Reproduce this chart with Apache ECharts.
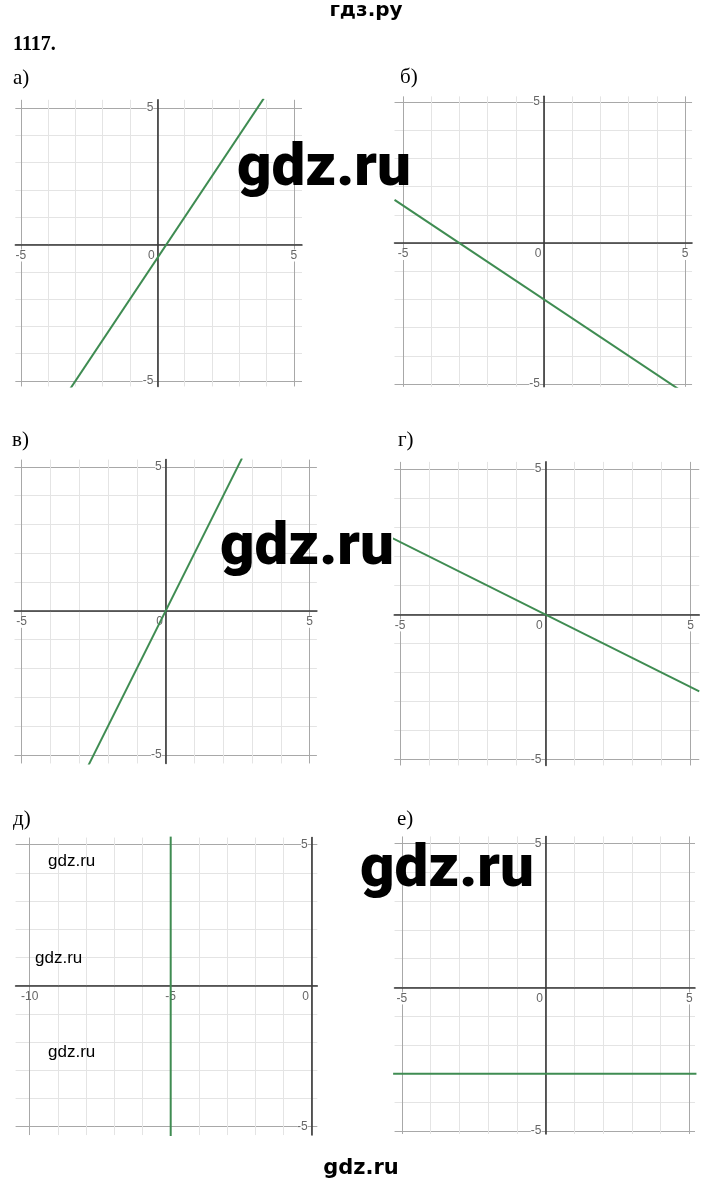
<!DOCTYPE html>
<html>
<head>
<meta charset="utf-8">
<script src="https://cdn.jsdelivr.net/npm/echarts@6/dist/echarts.min.js"></script>
<style>
html,body{margin:0;padding:0;background:#fff;}
#chart{width:720px;height:1183px;}
</style>
</head>
<body>
<div id="chart"></div>
<script>
// ---- data ----
const panelLabels = ['а)', 'б)', 'в)', 'г)', 'д)', 'е)'];
const xRanges = [[-5.2, 5.3], [-5.3, 5.25], [-5.25, 5.25], [-5.2, 5.3], [-10.5, 0.2], [-5.25, 5.2]];
const yRanges = [[-5.2, 5.3], [-5.1, 5.2], [-5.3, 5.25], [-5.2, 5.25], [-5.3, 5.25], [-5.1, 5.25]];
const gridTicks = [-5, -4, -3, -2, -1, 0, 1, 2, 3, 4, 5];
const gridTicksD = [-10, -9, -8, -7, -6, -5, -4, -3, -2, -1, 0];
const xGridTicks = [gridTicks, gridTicks, gridTicks, gridTicks, gridTicksD, gridTicks];
const xTickLabels = [[-5, 0, 5], [-5, 0, 5], [-5, 0, 5], [-5, 0, 5], [-10, -5, 0], [-5, 0, 5]];
const yTickLabels = [-5, 5];
const lineA = [[-3.2, -5.3], [3.9, 5.35]];
const lineB = [[-5.3, 1.53], [4.8, -5.2]];
const lineV = [[-2.7, -5.4], [2.65, 5.3]];
const lineG = [[-5.25, 2.62], [5.3, -2.65]];
const lineD = [[-5, 5.3], [-5, -5.35]];
const lineE = [[-5.3, -3], [5.25, -3]];
const lines = [lineA, lineB, lineV, lineG, lineD, lineE];

// ---- layout (pixel origin of each panel and px per unit) ----
const layout = [
  {ox: 157.3, oy: 244.5, u: 27.3},
  {ox: 544.0, oy: 243.0, u: 28.2},
  {ox: 165.7, oy: 610.8, u: 28.8},
  {ox: 545.3, oy: 614.4, u: 29.05},
  {ox: 311.7, oy: 985.6, u: 28.2},
  {ox: 545.5, oy: 987.4, u: 28.75}
];
const labelPos = [[13, 85], [400, 84], [12, 447], [398, 447], [13, 826], [397, 826]];

const GREEN = '#3f8c52';
const LIGHT = '#e4e4e4';
const DARK = '#a8a8a8';
const splitColors = [DARK, LIGHT, LIGHT, LIGHT, LIGHT, DARK, LIGHT, LIGHT, LIGHT, LIGHT, DARK];
const labelFont = {color: '#666', fontSize: 12, fontFamily: 'Liberation Sans, Arial, sans-serif'};

const grids = [], xAxes = [], yAxes = [], series = [];
layout.forEach((L, i) => {
  const xr = xRanges[i], yr = yRanges[i];
  grids.push({
    left: L.ox + xr[0] * L.u,
    top: L.oy - yr[1] * L.u,
    width: (xr[1] - xr[0]) * L.u,
    height: (yr[1] - yr[0]) * L.u,
    outerBoundsMode: 'none',
    containLabel: false
  });
  const xl = xTickLabels[i];
  xAxes.push({
    type: 'value', gridIndex: i, min: xr[0], max: xr[1],
    position: 'bottom', offset: yr[0] * L.u,
    axisLine: {show: true, onZero: false, lineStyle: {color: '#3a3a3a', width: 1.6}},
    axisTick: {show: false, customValues: xGridTicks[i]},
    splitLine: {show: true, lineStyle: {color: splitColors, width: 1}},
    axisLabel: {
      show: true, margin: 5, ...labelFont,
      customValues: xl,
      formatter: function (v) {
        const r = Math.round(v * 1000) / 1000;
        return r === 0 ? '{z|0}' : '{n|' + r + '}';
      },
      rich: {
        z: {padding: [0, 12, 0, 0], ...labelFont},
        n: {backgroundColor: i === 4 ? 'transparent' : '#fff', ...labelFont}
      }
    }
  });
  yAxes.push({
    type: 'value', gridIndex: i, min: yr[0], max: yr[1],
    position: 'left', offset: xr[0] * L.u,
    axisLine: {show: true, onZero: false, lineStyle: {color: '#3a3a3a', width: 1.6}},
    axisTick: {show: false, customValues: gridTicks},
    splitLine: {show: true, lineStyle: {color: splitColors, width: 1}},
    axisLabel: {
      show: true, margin: 4, ...labelFont,
      customValues: yTickLabels,
      backgroundColor: '#fff'
    }
  });
  series.push({
    type: 'line', xAxisIndex: i, yAxisIndex: i, data: lines[i],
    symbol: 'none', showSymbol: false, clip: true, z: 5,
    lineStyle: {color: GREEN, width: 2}
  });
});

const graphic = [];
function txt(x, y, text, font, align, z) {
  graphic.push({type: 'text', x: x, y: y, z: z || 100, silent: true,
    style: {text: text, font: font, fill: '#000', textAlign: align || 'left', textVerticalAlign: 'bottom'}});
}
// header texts
txt(366, 21, 'гдз.ру', 'bold 20px "DejaVu Sans"', 'center');
txt(13, 55, '1117.', 'bold 20px "Liberation Serif"', 'left');
panelLabels.forEach((t, i) => txt(labelPos[i][0], labelPos[i][1] + 4, t, '21px "Liberation Serif"', 'left'));
// watermarks
txt(237, 200, 'gdz.ru', '900 60px Roboto', 'left', 200);
txt(220, 579, 'gdz.ru', '900 60px Roboto', 'left', 200);
txt(360, 901, 'gdz.ru', '900 60px Roboto', 'left', 200);
txt(361, 1179, 'gdz.ru', 'bold 21px "DejaVu Sans"', 'center', 200);
txt(48, 870, 'gdz.ru', '17px "Liberation Sans"', 'left', 200);
txt(35, 967, 'gdz.ru', '17px "Liberation Sans"', 'left', 200);
txt(48, 1061, 'gdz.ru', '17px "Liberation Sans"', 'left', 200);

const chart = echarts.init(document.getElementById('chart'), null, {renderer: 'canvas'});
chart.setOption({
  animation: false,
  backgroundColor: '#fff',
  grid: grids, xAxis: xAxes, yAxis: yAxes, series: series,
  graphic: graphic
});
</script>
</body>
</html>
